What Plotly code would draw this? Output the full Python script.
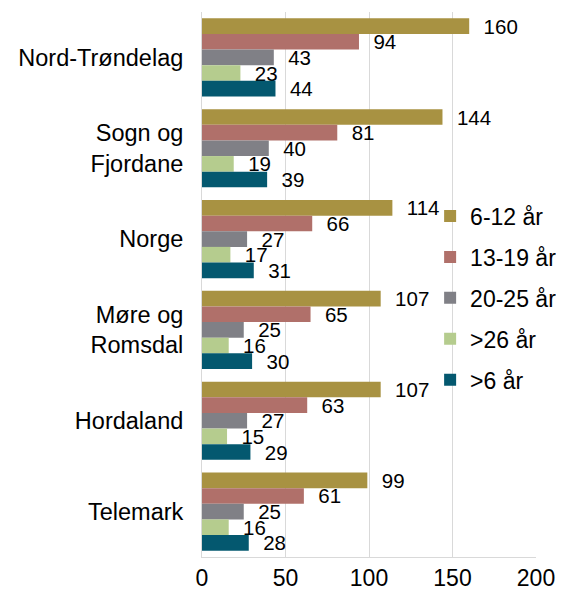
import plotly.graph_objects as go

categories = ["Nord-Trøndelag", "Sogn og<br>Fjordane", "Norge", "Møre og<br>Romsdal", "Hordaland", "Telemark"]
series_names = ["6-12 år", "13-19 år", "20-25 år", ">26 år", ">6 år"]
age_6_12 = [160, 144, 114, 107, 107, 99]
age_13_19 = [94, 81, 66, 65, 63, 61]
age_20_25 = [43, 40, 27, 25, 27, 25]
age_26_plus = [23, 19, 17, 16, 15, 16]
age_6_plus = [44, 39, 31, 30, 29, 28]
colors = ["#a89242", "#b0706a", "#808086", "#b5cc8e", "#04586f"]

values = [age_6_12, age_13_19, age_20_25, age_26_plus, age_6_plus]

pad = "\u00a0" * 2  # push labels away from the bar end, like the original

fig = go.Figure()
for name, vals, col in zip(series_names, values, colors):
    fig.add_trace(
        go.Bar(
            y=categories,
            x=vals,
            name=name,
            orientation="h",
            marker=dict(color=col, line=dict(width=0)),
            text=[pad + str(v) for v in vals],
            textposition="outside",
            constraintext="none",
            textfont=dict(size=20.5, color="black"),
            cliponaxis=False,
            legendgroup=name,
        )
    )

# the page body has an 8px margin, so the figure is a bit smaller than the window
fig.update_layout(
    width=556,
    height=587,
    barmode="group",
    bargap=0.14,
    bargroupgap=0,
    plot_bgcolor="white",
    paper_bgcolor="white",
    font=dict(family="Liberation Sans, Arial", size=23, color="black"),
    margin=dict(l=194, r=28, t=4, b=38, autoexpand=False),
    legend=dict(
        x=0.683,
        y=0.665,
        xanchor="left",
        yanchor="top",
        bgcolor="rgba(0,0,0,0)",
        font=dict(size=23),
        traceorder="grouped",
        tracegroupgap=8,
    ),
    xaxis=dict(
        range=[0, 200],
        tickvals=[0, 50, 100, 150, 200],
        showgrid=True,
        gridcolor="#d9d9d9",
        gridwidth=1,
        zeroline=False,
        showline=True,
        linecolor="#d9d9d9",
        ticks="",
        tickfont=dict(size=23),
        automargin=False,
    ),
    yaxis=dict(
        autorange="reversed",
        showline=True,
        linecolor="#d9d9d9",
        ticks="",
        ticklabelstandoff=13,
        tickfont=dict(size=23.5),
        automargin=False,
    ),
)

fig.write_html("out.html")
